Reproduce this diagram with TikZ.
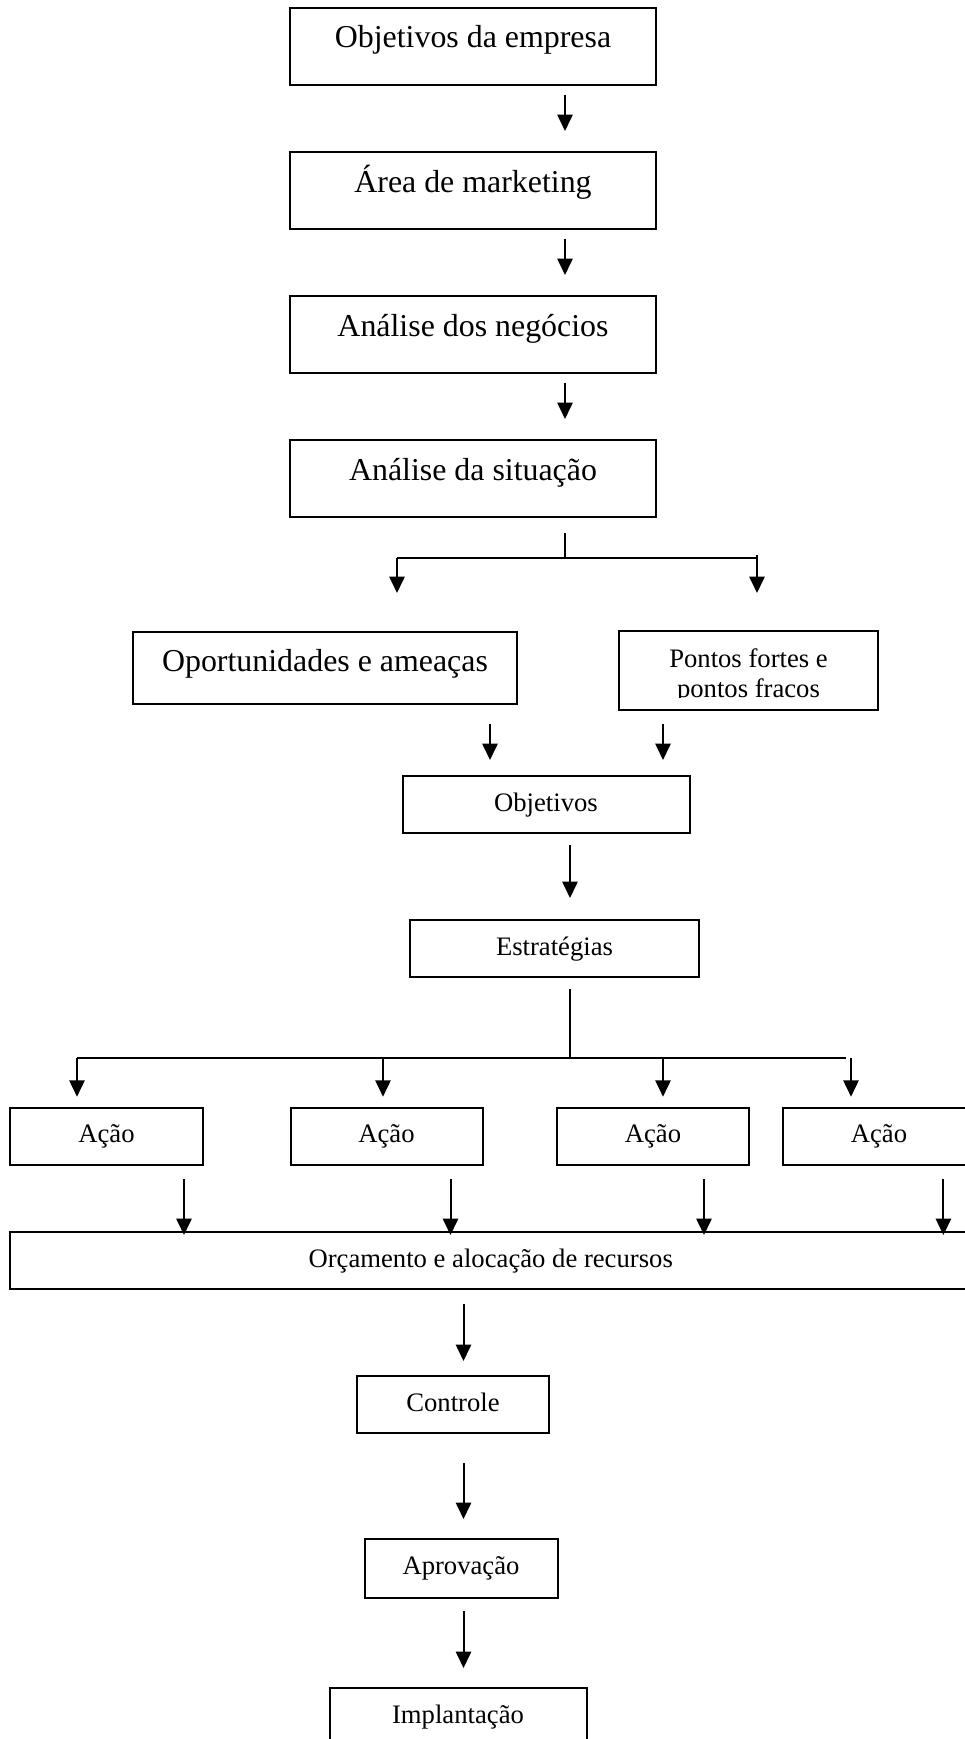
\documentclass[tikz,border=0pt]{standalone}
\usepackage{fontspec}
\setmainfont{Liberation Serif}
\usetikzlibrary{arrows.meta}

\begin{document}
\begin{tikzpicture}[x=0.45pt,y=-0.45pt,>={Triangle[length=7.4pt,width=6.9pt]},line width=0.9pt,bigbox/.style={draw,anchor=north,inner sep=0pt,text height=18pt,text depth=16.65pt,minimum width=164.7pt,font=\fontsize{14.35}{17.2}\selectfont},smallbox/.style={draw,anchor=north,inner sep=0pt,text height=15.75pt,text depth=9.9pt,font=\fontsize{12}{13.2}\selectfont}]
\useasboundingbox (0,0) rectangle (965,1739);
\clip (0,0) rectangle (965,1739);
\node[bigbox] (goals) at (473,7) {Objetivos da empresa\hspace{6.5pt}};
\node[bigbox] (mkt) at (473,151) {Área de marketing};
\node[bigbox] (biz) at (473,295) {Análise dos negócios};
\node[bigbox] (sit) at (473,439) {Análise da situação};
\node[bigbox,minimum width=172.8pt,text height=17.55pt,text depth=14.85pt] (opp) at (325,631) {Oportunidades e ameaças\hspace{7.5pt}};
\begin{scope}
\clip (600,600) rectangle (900,697);
\node[anchor=north,inner sep=0pt,minimum width=115.65pt,minimum height=34.65pt,align=center,font=\fontsize{12}{13.2}\selectfont] (swot) at (748.5,631) {\rule{0pt}{13.2pt}Pontos fortes e\\pontos fracos};
\end{scope}
\draw (swot.south west) rectangle (swot.north east);
\node[smallbox,minimum width=129.15pt] (aims) at (546,775) {Objetivos};
\node[smallbox,minimum width=130.05pt] (strat) at (554.5,919) {Estratégias};
\foreach \x [count=\n] in {106.5,386.5,653,879} \node[smallbox,minimum width=86.4pt] (act\n) at (\x,1106.7) {Ação};
\node[smallbox,minimum width=432.2pt] (budget) at (490.7,1231) {Orçamento e alocação de recursos};
\node[smallbox,minimum width=86.4pt] (ctrl) at (453,1375) {Controle};
\node[smallbox,minimum width=86.85pt,text depth=10.8pt] (aprov) at (461,1538) {Aprovação};
\node[smallbox,minimum width=115.65pt] (impl) at (458,1687) {Implantação};
\draw[->,shorten <=4.05pt,shorten >=9pt] (goals.south -| 565,0) -- (mkt.north -| 565,0);
\draw[->,shorten <=4.05pt,shorten >=9pt] (mkt.south -| 565,0) -- (biz.north -| 565,0);
\draw[->,shorten <=4.05pt,shorten >=9pt] (biz.south -| 565,0) -- (sit.north -| 565,0);
\coordinate (split) at (565,558);\coordinate (splitL) at (397,558);\coordinate (splitR) at (757,558);
\draw[shorten <=6.75pt] (sit.south -| split) -- (split);
\draw (splitL) -- (splitR);
\draw[->,shorten >=17.1pt] (splitL) -- (splitL |- opp.north);
\draw[->,shorten >=17.1pt] ([yshift=1.35pt]splitR) -- (splitR |- swot.north);
\draw[->,shorten <=8.55pt,shorten >=6.75pt] (opp.south -| 490,0) -- (aims.north -| 490,0);
\draw[->,shorten <=6.3pt,shorten >=6.75pt] (swot.south -| 663,0) -- (aims.north -| 663,0);
\draw[->,shorten <=4.95pt,shorten >=9.45pt] (aims.south -| 570,0) -- (strat.north -| 570,0);
\coordinate (fork) at (570,1058);\coordinate (forkL) at (77,1058);\coordinate (forkR) at (846,1058);
\draw[shorten <=4.95pt] (strat.south -| fork) -- (fork);
\draw (forkL) -- (forkR);
\foreach \x [count=\n] in {77,383,663,851} {\coordinate (drop\n) at (\x,1058);\draw[->,shorten >=4.5pt] (drop\n) -- (drop\n |- act\n.north);}
\foreach \x [count=\n] in {184,450.5,704,943.4} \draw[->,shorten <=6.2pt,shorten >=-1.8pt] (act\n.south -| \x,0) -- (budget.north -| \x,0);
\draw[->,shorten <=6.3pt,shorten >=6.3pt] (budget.south -| 463.5,0) -- (ctrl.north -| 463.5,0);
\draw[->,shorten <=13.05pt,shorten >=8.55pt] (ctrl.south -| 463.5,0) -- (aprov.north -| 463.5,0);
\draw[->,shorten <=5.4pt,shorten >=8.55pt] (aprov.south -| 463.5,0) -- (impl.north -| 463.5,0);
\end{tikzpicture}
\end{document}
